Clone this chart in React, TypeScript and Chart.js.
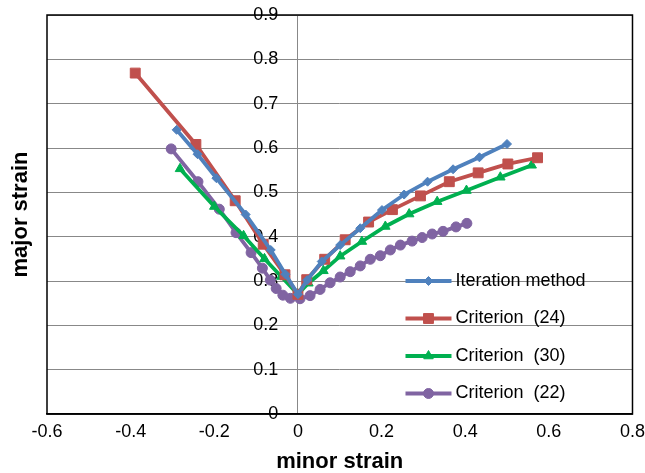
import React, { useEffect, useRef } from 'react';
import { Chart, registerables } from 'chart.js';

Chart.register(...registerables);

// ---- data ----
const seriesNames = ['Iteration method', 'Criterion  (24)', 'Criterion  (30)', 'Criterion  (22)'];

const iterX = [-0.29, -0.24, -0.195, -0.125, -0.065, -0.03, 0, 0.022, 0.057, 0.101, 0.149, 0.201, 0.254, 0.31, 0.371, 0.434, 0.5];
const iterY = [0.641, 0.586, 0.532, 0.45, 0.37, 0.315, 0.27, 0.302, 0.344, 0.381, 0.419, 0.46, 0.495, 0.524, 0.552, 0.579, 0.609];

const c24X = [-0.389, -0.244, -0.15, -0.083, -0.031, 0, 0.021, 0.064, 0.113, 0.169, 0.226, 0.293, 0.362, 0.431, 0.502, 0.573];
const c24Y = [0.769, 0.608, 0.481, 0.383, 0.314, 0.27, 0.303, 0.349, 0.393, 0.433, 0.461, 0.492, 0.524, 0.544, 0.564, 0.578];

const c30X = [-0.282, -0.2, -0.13, -0.08, -0.04, 0, 0.025, 0.061, 0.101, 0.153, 0.209, 0.266, 0.333, 0.403, 0.484, 0.559];
const c30Y = [0.553, 0.468, 0.402, 0.35, 0.31, 0.27, 0.295, 0.323, 0.356, 0.389, 0.423, 0.451, 0.479, 0.504, 0.534, 0.561];

const c22X = [-0.303, -0.239, -0.188, -0.148, -0.112, -0.085, -0.066, -0.052, -0.036, -0.018, 0.005, 0.029, 0.053, 0.077, 0.101, 0.125, 0.149, 0.173, 0.197, 0.221, 0.245, 0.273, 0.297, 0.321, 0.347, 0.378, 0.404];
const c22Y = [0.598, 0.524, 0.462, 0.409, 0.364, 0.329, 0.302, 0.283, 0.268, 0.261, 0.26, 0.267, 0.281, 0.296, 0.309, 0.321, 0.334, 0.349, 0.357, 0.37, 0.381, 0.39, 0.398, 0.406, 0.412, 0.422, 0.43];

const xTickMin = -0.6;
const xTickMax = 0.8;
const xTickStep = 0.2;
const yTickMin = 0;
const yTickMax = 0.9;
const yTickStep = 0.1;

const xTitle = 'minor strain';
const yTitle = 'major strain';

// ---- styles ----
const colors = ['#4F81BD', '#C0504D', '#00B050', '#8064A2'];
const pointStyles = ['rectRot', 'rect', 'triangle', 'circle'];
const pointRadii = [4.5, 7, 5.5, 5];
const FONT = '"Liberation Sans", Arial, Helvetica, sans-serif';
// the y tick labels sit a little to the left of the x = 0 line
const yLabelAnchor = -0.047;

const toPoints = (xs: number[], ys: number[]) => xs.map((x, i) => ({ x, y: ys[i] }));

const fmt = (v: number | string) => {
  const r = Math.round(Number(v) * 10) / 10;
  return r === 0 ? '0' : String(r);
};

function drawMarker(ctx: CanvasRenderingContext2D, style: string, x: number, y: number, r: number, color: string) {
  ctx.save();
  ctx.fillStyle = color;
  ctx.strokeStyle = color;
  ctx.lineWidth = 1;
  ctx.beginPath();
  if (style === 'circle') {
    ctx.arc(x, y, r, 0, Math.PI * 2);
  } else if (style === 'rect') {
    const h = r * Math.SQRT1_2;
    ctx.rect(x - h, y - h, 2 * h, 2 * h);
  } else if (style === 'rectRot') {
    ctx.moveTo(x, y - r);
    ctx.lineTo(x + r, y);
    ctx.lineTo(x, y + r);
    ctx.lineTo(x - r, y);
    ctx.closePath();
  } else if (style === 'triangle') {
    const s = Math.sin((2 * Math.PI) / 3) * r;
    ctx.moveTo(x, y - r);
    ctx.lineTo(x + s, y + r / 2);
    ctx.lineTo(x - s, y + r / 2);
    ctx.closePath();
  }
  ctx.fill();
  ctx.stroke();
  ctx.restore();
}

const framePlugin = {
  id: 'frame',
  beforeDatasetsDraw(chart: any) {
    const { ctx, chartArea } = chart;
    const { left, top, right, bottom } = chartArea;
    ctx.save();
    ctx.strokeStyle = '#000';
    ctx.lineWidth = 1.5;
    ctx.strokeRect(left, top, right - left, bottom - top);
    ctx.restore();
  },
};

const insideLegend = {
  id: 'insideLegend',
  afterDraw(chart: any) {
    const { ctx, chartArea } = chart;
    const x0 = chartArea.right - 227;
    const x1 = chartArea.right - 181;
    chart.data.datasets.forEach((ds: any, i: number) => {
      const y = chartArea.bottom - 133 + i * 37.5;
      ctx.save();
      ctx.strokeStyle = ds.borderColor;
      ctx.lineWidth = 4;
      ctx.beginPath();
      ctx.moveTo(x0, y);
      ctx.lineTo(x1, y);
      ctx.stroke();
      drawMarker(ctx, ds.pointStyle, (x0 + x1) / 2, y, ds.pointRadius, ds.borderColor);
      ctx.fillStyle = '#000';
      ctx.font = `18px ${FONT}`;
      ctx.textBaseline = 'middle';
      ctx.textAlign = 'left';
      ctx.fillText(ds.label, x1 + 4, y);
      ctx.restore();
    });
  },
};

export default function App() {
  const ref = useRef<HTMLCanvasElement | null>(null);

  useEffect(() => {
    if (!ref.current) return;
    Chart.defaults.font.family = FONT;
    Chart.defaults.color = '#000';
    const all = [toPoints(iterX, iterY), toPoints(c24X, c24Y), toPoints(c30X, c30Y), toPoints(c22X, c22Y)];
    const chart = new Chart(ref.current, {
      type: 'scatter',
      data: {
        datasets: all.map((pts, i) => ({
          label: seriesNames[i],
          data: pts,
          showLine: true,
          borderColor: colors[i],
          backgroundColor: colors[i],
          borderWidth: 3.8,
          tension: 0,
          pointStyle: pointStyles[i],
          pointRadius: pointRadii[i],
          pointHoverRadius: pointRadii[i],
          pointBorderWidth: 1,
          pointBackgroundColor: colors[i],
          pointBorderColor: colors[i],
          xAxisID: 'x',
          yAxisID: 'y',
        })),
      },
      options: {
        responsive: false,
        animation: false,
        events: [],
        layout: { padding: { left: 0, right: 0, top: 15, bottom: 0 } },
        plugins: {
          legend: { display: false },
          tooltip: { enabled: false },
        },
        scales: {
          y: {
            type: 'linear',
            position: { x: yLabelAnchor } as any,
            min: yTickMin,
            max: yTickMax,
            ticks: {
              stepSize: yTickStep,
              padding: 0,
              font: { size: 18 },
              callback: (v: any) => fmt(v),
            },
            grid: { color: '#888', lineWidth: 1, drawTicks: false },
            border: { display: false },
          },
          x: {
            type: 'linear',
            position: 'bottom',
            min: xTickMin,
            max: xTickMax,
            ticks: {
              stepSize: xTickStep,
              padding: 0,
              font: { size: 18, lineHeight: 2 },
              callback: (v: any) => fmt(v),
            },
            grid: {
              display: true,
              drawTicks: false,
              lineWidth: 1,
              color: (c: any) => (c.tick && Math.abs(c.tick.value) < 1e-9 ? '#888' : 'rgba(0,0,0,0)'),
            },
            border: { display: true, color: '#000', width: 1.5 },
            title: {
              display: true,
              text: xTitle,
              font: { size: 22, weight: 'bold', lineHeight: 1 },
              padding: { top: 1, bottom: 0 },
            },
          },
          yTitle: {
            type: 'linear',
            position: 'left',
            min: 0,
            max: 1,
            ticks: { display: false },
            grid: { display: false, drawTicks: false },
            border: { display: false },
            title: {
              display: true,
              text: yTitle,
              font: { size: 22, weight: 'bold', lineHeight: 1 },
              padding: { top: 10, bottom: 15 },
            },
          },
        },
      },
      plugins: [framePlugin, insideLegend],
    } as any);
    return () => chart.destroy();
  }, []);

  return (
    <div style={{ position: 'fixed', left: 0, top: 0, width: 645, height: 473, background: '#fff' }}>
      <canvas ref={ref} width={645} height={473} style={{ width: 645, height: 473, display: 'block' }} />
    </div>
  );
}
